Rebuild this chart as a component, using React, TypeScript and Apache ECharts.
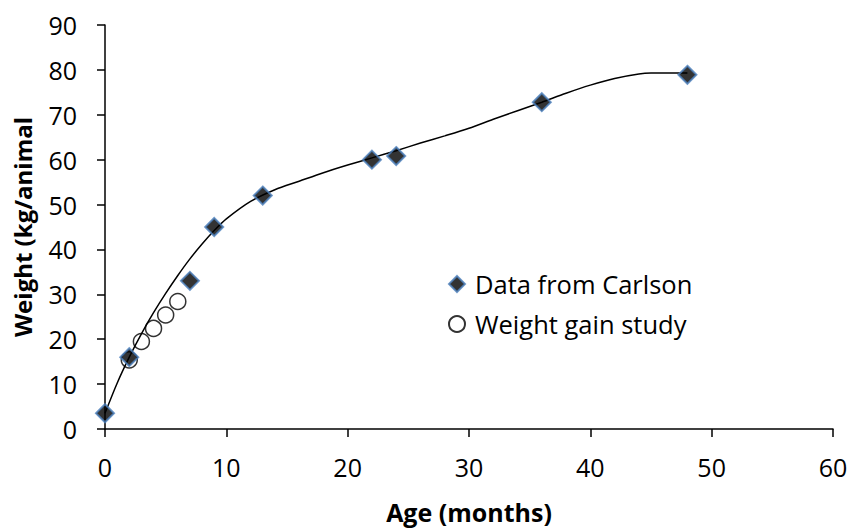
import React, { useEffect, useRef } from "react";
import * as echarts from "echarts";

const carlsonAge = [0, 2, 7, 9, 13, 22, 24, 36, 48];
const carlsonWeight = [3.5, 16, 33, 45, 52, 60, 60.8, 72.8, 78.9];
const studyAge = [2, 3, 4, 5, 6];
const studyWeight = [15.4, 19.5, 22.4, 25.4, 28.4];
const curveAge = [0, 1, 2, 3, 4, 5, 6, 7, 8, 9, 10, 12, 14, 16, 18, 20, 22, 24, 26, 28, 30, 32, 34, 36, 38, 40, 42, 44, 45, 48];
const curveWeight = [3.5, 10.2, 16, 21.2, 25.9, 30.2, 34.2, 37.9, 41.2, 44.2, 46.8, 50.7, 53.3, 55.2, 57.1, 58.8, 60.4, 62.0, 63.7, 65.3, 67.0, 69.0, 70.9, 72.8, 74.8, 76.6, 78.1, 79.1, 79.3, 79.3];
const xTicks = [0, 10, 20, 30, 40, 50, 60];
const yTicks = [0, 10, 20, 30, 40, 50, 60, 70, 80, 90];

const FONT = "Open Sans";

export default function App() {
  const ref = useRef<HTMLDivElement>(null);
  useEffect(() => {
    if (!ref.current) return;
    const chart = echarts.init(ref.current, undefined, { renderer: "svg" });
    chart.setOption({
      animation: false,
      backgroundColor: "#ffffff",
      textStyle: { fontFamily: FONT, color: "#000" },
      grid: { left: 105, right: 18, top: 25, bottom: 99, containLabel: false },
      xAxis: {
        type: "value",
        min: xTicks[0],
        max: xTicks[xTicks.length - 1],
        interval: 10,
        name: "Age (months)",
        nameLocation: "middle",
        nameGap: 70,
        nameTextStyle: { fontFamily: FONT, fontSize: 25, fontWeight: "bold", color: "#000" },
        axisLine: { show: true, onZero: false, lineStyle: { color: "#000", width: 1.5 } },
        axisTick: { show: true, inside: false, length: 8, lineStyle: { color: "#000", width: 1.5 } },
        axisLabel: { margin: 25, fontSize: 25, color: "#000", fontFamily: FONT },
        splitLine: { show: false },
      },
      yAxis: {
        type: "value",
        min: yTicks[0],
        max: yTicks[yTicks.length - 1],
        interval: 10,
        name: "Weight (kg/animal",
        nameLocation: "middle",
        nameGap: 71,
        nameRotate: 90,
        nameTextStyle: { fontFamily: FONT, fontSize: 24, fontWeight: "bold", color: "#000" },
        axisLine: { show: true, onZero: false, lineStyle: { color: "#000", width: 1.5 } },
        axisTick: { show: true, inside: false, length: 8, lineStyle: { color: "#000", width: 1.5 } },
        axisLabel: { margin: 28, fontSize: 25, color: "#000", fontFamily: FONT },
        splitLine: { show: false },
      },
      legend: {
        orient: "vertical",
        left: 443,
        top: 265,
        itemWidth: 16,
        itemHeight: 16,
        itemGap: 12,
        data: [
          { name: "Data from Carlson", icon: "diamond" },
          { name: "Weight gain study", icon: "circle" },
        ],
        textStyle: { fontFamily: FONT, fontSize: 25.5, lineHeight: 28, color: "#000", padding: [0, 0, 0, 5] },
      },
      series: [
        {
          name: "fit",
          type: "line",
          data: curveAge.map((x, i) => [x, curveWeight[i]]),
          smooth: 0.3,
          showSymbol: false,
          symbol: "none",
          lineStyle: { color: "#000", width: 1.5 },
          z: 1,
        },
        {
          name: "Weight gain study",
          type: "scatter",
          data: studyAge.map((x, i) => [x, studyWeight[i]]),
          symbol: "circle",
          symbolSize: 16,
          itemStyle: { color: "rgba(255,255,255,0)", borderColor: "#000", borderWidth: 1.5 },
          z: 2,
        },
        {
          name: "Data from Carlson",
          type: "scatter",
          data: carlsonAge.map((x, i) => [x, carlsonWeight[i]]),
          symbol: "diamond",
          symbolSize: 18,
          itemStyle: { color: "#000", borderColor: "#4a7ebb", borderWidth: 2 },
          z: 3,
        },
      ],
    });
    return () => chart.dispose();
  }, []);
  return (
    <div
      ref={ref}
      style={{ position: "absolute", left: 0, top: 0, width: 851, height: 529 }}
    />
  );
}
